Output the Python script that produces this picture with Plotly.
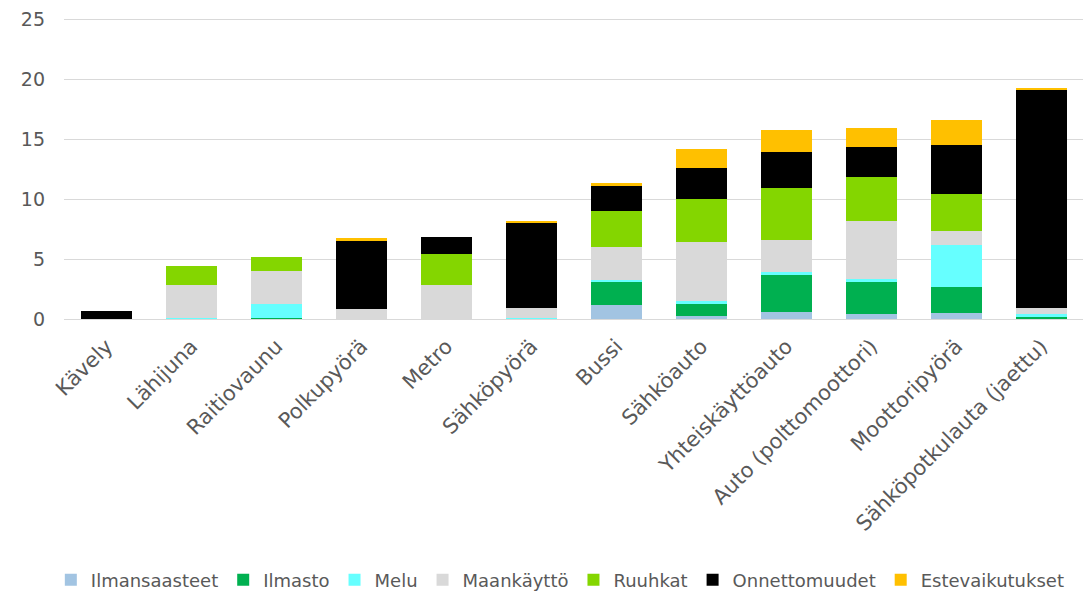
import plotly.graph_objects as go

categories = ["Kävely", "Lähijuna", "Raitiovaunu", "Polkupyörä", "Metro", "Sähköpyörä",
              "Bussi", "Sähköauto", "Yhteiskäyttöauto", "Auto (polttomoottori)",
              "Moottoripyörä", "Sähköpotkulauta (jaettu)"]

ilmansaasteet = [0.0, 0.0, 0.02, 0.0, 0.0, 0.0, 1.16, 0.25, 0.56, 0.44, 0.53, 0.03]
ilmasto = [0.0, 0.03, 0.03, 0.0, 0.03, 0.08, 1.92, 1.02, 3.10, 2.61, 2.16, 0.11]
melu = [0.0, 0.05, 1.20, 0.0, 0.0, 0.02, 0.19, 0.22, 0.25, 0.25, 3.44, 0.28]
maankaytto = [0.0, 2.75, 2.74, 0.80, 2.77, 0.79, 2.75, 4.92, 2.66, 4.85, 1.19, 0.47]
ruuhkat = [0.0, 1.60, 1.19, 0.0, 2.61, 0.0, 2.94, 3.63, 4.35, 3.66, 3.08, 0.0]
onnettomuudet = [0.69, 0.0, 0.0, 5.71, 1.39, 7.07, 2.13, 2.55, 3.03, 2.56, 4.10, 18.16]
estevaikutukset = [0.0, 0.0, 0.0, 0.20, 0.0, 0.19, 0.22, 1.55, 1.83, 1.52, 2.11, 0.17]

series = [
    ("Ilmansaasteet", ilmansaasteet, "#A2C4E2"),
    ("Ilmasto", ilmasto, "#00B050"),
    ("Melu", melu, "#66FFFF"),
    ("Maankäyttö", maankaytto, "#D9D9D9"),
    ("Ruuhkat", ruuhkat, "#84D600"),
    ("Onnettomuudet", onnettomuudet, "#000000"),
    ("Estevaikutukset", estevaikutukset, "#FFC000"),
]

y_ticks = [0, 5, 10, 15, 20, 25]

fig = go.Figure()
for name, vals, color in series:
    fig.add_trace(go.Bar(x=categories, y=vals, name=name,
                         marker=dict(color=color, line=dict(width=0))))

text_color = "#595959"
font_family = "Verdana, DejaVu Sans, sans-serif"

# page body has an 8px default margin, so the figure is 8px smaller on each axis
fig.update_layout(
    width=1083, height=583,
    barmode="stack",
    bargap=0.41,
    plot_bgcolor="white",
    paper_bgcolor="white",
    margin=dict(l=56, r=7, t=9, b=272, autoexpand=False),
    font=dict(family=font_family, color=text_color, size=19),
    showlegend=True,
    legend=dict(orientation="h", xref="container", x=0.51, xanchor="center",
                yref="paper", y=-0.864, yanchor="middle",
                font=dict(size=18, color=text_color), traceorder="normal",
                itemwidth=30, tracegroupgap=0),
    xaxis=dict(tickangle=-45, tickfont=dict(size=21, color=text_color),
               showgrid=False, showline=False, ticks="", automargin=False,
               ticklabelstandoff=10),
    yaxis=dict(range=[0, 25.17], tickvals=y_ticks, showgrid=True, gridcolor="#D9D9D9",
               gridwidth=1, zeroline=True, zerolinecolor="#D9D9D9", zerolinewidth=1,
               showline=False, ticks="", ticklabelstandoff=18,
               ticklabeloverflow="allow",
               tickfont=dict(size=19, color=text_color), automargin=False),
)

fig.write_html("out.html")
